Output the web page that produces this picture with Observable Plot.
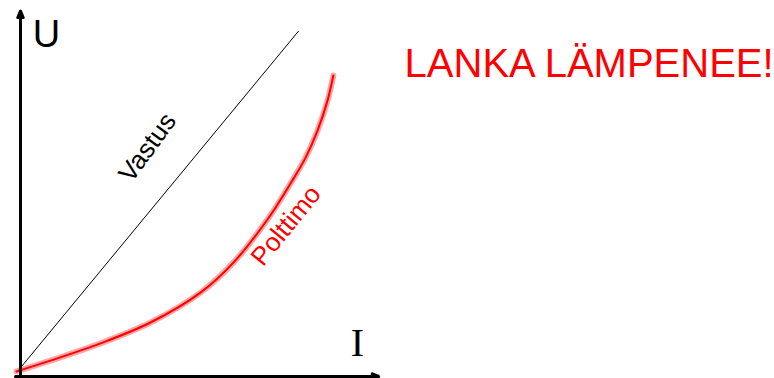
<!DOCTYPE html>
<html>
<head>
<meta charset="utf-8">
<script src="https://cdn.jsdelivr.net/npm/d3@7"></script>
<script src="https://cdn.jsdelivr.net/npm/@observablehq/plot@0.6"></script>
<style>
  html, body { margin: 0; padding: 0; background: #fff; }
  svg { display: block; }
</style>
</head>
<body>
<div id="chart"></div>
<script>
// Resistor (Vastus): straight line
const resistorI = [-0.11, 7.72];
const resistorU = [0.11, 9.59];

// Light bulb (Polttimo): curved characteristic
const bulbI = [-0.11, 0.83, 2.22, 3.61, 5.0, 5.92, 6.86, 7.5, 7.92, 8.25, 8.53, 8.69];
const bulbU = [0.14, 0.44, 0.92, 1.5, 2.33, 3.17, 4.36, 5.36, 6.08, 6.83, 7.67, 8.36];

// Axis extents (data units)
const axisIExtent = [-0.14, 9.95];
const axisUExtent = [-0.06, 10.15];

// Labels
const labels = [
  {text: "U", I: 0.72, U: 9.14, size: 38, font: "Liberation Sans, Arial, sans-serif", color: "#000", rotate: 0, anchor: "middle", line: "bottom"},
  {text: "I", I: 9.36, U: 0.58, size: 40, font: "Liberation Serif, Times New Roman, serif", color: "#000", rotate: 0, anchor: "middle", line: "bottom"},
  {text: "LANKA LÄMPENEE!", I: 10.67, U: 8.31, size: 40, font: "Liberation Sans, Arial, sans-serif", color: "#ff0000", rotate: 0, anchor: "start", line: "bottom"},
  {text: "Vastus", I: 3.53, U: 6.36, size: 26, font: "Liberation Sans, Arial, sans-serif", color: "#000", rotate: -54, anchor: "middle", line: "middle"},
  {text: "Polttimo", I: 7.38, U: 4.19, size: 26, font: "Liberation Sans, Arial, sans-serif", color: "#ff0000", rotate: -51, anchor: "middle", line: "middle"}
];

const resistor = resistorI.map((I, i) => ({I, U: resistorU[i]}));
const bulb = bulbI.map((I, i) => ({I, U: bulbU[i]}));
const axes = [
  {x1: axisIExtent[0], y1: 0, x2: axisIExtent[1], y2: 0},
  {x1: 0, y1: axisUExtent[0], x2: 0, y2: axisUExtent[1]}
];

const textMarks = labels.map(d => Plot.text([d], {
  x: "I", y: "U", text: "text",
  fontSize: d.size, fontFamily: d.font, fill: d.color,
  rotate: d.rotate, textAnchor: d.anchor, lineAnchor: d.line
}));

const chart = Plot.plot({
  width: 774,
  height: 378,
  margin: 0,
  x: {domain: [0, 10], range: [20, 380], axis: null},
  y: {domain: [0, 10], range: [376, 16], axis: null},
  style: {background: "#fff"},
  marks: [
    Plot.line(resistor, {x: "I", y: "U", stroke: "#000", strokeWidth: 1}),
    Plot.line(bulb, {x: "I", y: "U", stroke: "#ff8888", strokeWidth: 6, strokeOpacity: 0.75, curve: "catmull-rom"}),
    Plot.line(bulb, {x: "I", y: "U", stroke: "#ff0000", strokeWidth: 2, curve: "catmull-rom"}),
    Plot.arrow(axes, {x1: "x1", y1: "y1", x2: "x2", y2: "y2", stroke: "#000", strokeWidth: 3, headLength: 3.5, headAngle: 45}),
    ...textMarks
  ]
});
document.getElementById("chart").append(chart);
</script>
</body>
</html>
